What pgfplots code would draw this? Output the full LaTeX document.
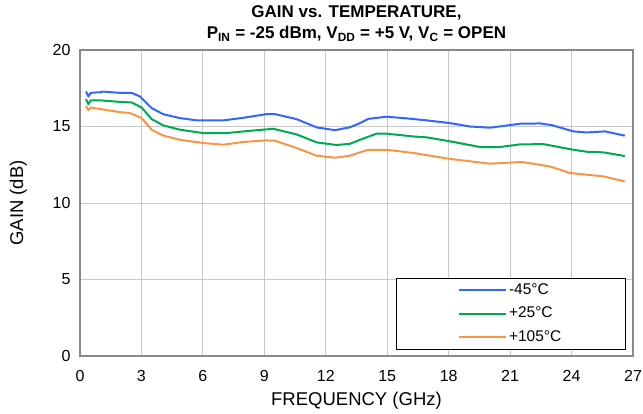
\documentclass[border=0pt]{standalone}
\usepackage{fontspec}
\setmainfont{Liberation Sans}
\usepackage{pgfplots}
\pgfplotsset{compat=1.18}
\definecolor{cblue}{RGB}{51,102,255}
\definecolor{cgreen}{RGB}{0,170,80}
\definecolor{corange}{RGB}{247,150,70}
\definecolor{frame}{RGB}{137,137,137}
\definecolor{gridc}{RGB}{200,200,200}
\begin{document}
\begin{tikzpicture}
  \useasboundingbox (-80bp,-58bp) rectangle (563bp,356bp);
  \begin{axis}[
      at={(0,0)}, anchor=south west,
      scale only axis,
      width=553bp, height=306bp,
      xmin=0, xmax=27, ymin=0, ymax=20,
      xtick={0,3,...,27}, ytick={0,5,...,20},
      grid=major,
      major grid style={gridc, line width=0.8bp},
      axis line style={frame, line width=1.6bp},
      major tick length=0pt,
      /pgf/number format/assume math mode=true,
      tick label style={font=\fontsize{16bp}{19bp}\selectfont},
      yticklabel style={xshift=-6bp},
      xticklabel style={yshift=-11bp},
      xlabel={FREQUENCY (GHz)},
      ylabel={GAIN (dB)},
      label style={font=\fontsize{18.5bp}{22bp}\selectfont},
      xlabel shift=3bp,
      ylabel shift=19bp,
      title={GAIN vs. TEMPERATURE,\\P\textsubscript{IN} = -25 dBm, V\textsubscript{DD} = +5 V, V\textsubscript{C} = OPEN},
      title style={at={(0.5,1)}, anchor=south, yshift=-1bp, align=center,
        font=\bfseries\fontsize{17bp}{21bp}\selectfont},
      legend style={at={(0.571,0.02)}, anchor=south west,
        draw=black, line width=0.8bp, fill=white,
        minimum width=229bp, minimum height=71bp,
        font=\fontsize{15.5bp}{18bp}\selectfont,
        row sep=5.5bp,
        nodes={minimum width=0pt, minimum height=0pt, inner sep=2bp,
          text height=11bp, text depth=3bp}},
      legend cell align=left,
      legend image code/.code={\draw[#1, line width=2bp] (0bp,0bp) -- (47bp,0bp);},
    ]
    \addplot[cblue, line width=2bp, line join=round] coordinates {
      (0.29,17.28)(0.41,16.96)(0.52,17.2)(0.98,17.24)(1.14,17.28)(1.95,17.2)
      (2.52,17.2)(2.93,16.96)(3.5,16.2)(4.07,15.8)(4.88,15.55)(5.7,15.4)
      (7.0,15.4)(7.98,15.57)(9.11,15.81)(9.52,15.81)(10.58,15.48)(11.56,14.94)
      (12.45,14.76)(13.18,14.95)(13.67,15.22)(14.08,15.5)(14.98,15.64)
      (15.95,15.53)(16.93,15.4)(18.07,15.22)(19.04,15.0)(20.02,14.92)
      (21.48,15.18)(22.46,15.2)(23.03,15.09)(24.09,14.68)(24.74,14.61)
      (25.63,14.68)(26.6,14.4)
    };
    \addlegendentry{-45°C}
    \addplot[cgreen, line width=2bp, line join=round] coordinates {
      (0.29,16.79)(0.41,16.46)(0.52,16.7)(1.06,16.7)(1.95,16.61)(2.52,16.57)
      (3.01,16.24)(3.5,15.48)(4.07,15.07)(4.88,14.79)(6.02,14.57)(7.16,14.57)
      (8.14,14.7)(9.44,14.85)(10.58,14.48)(11.56,13.96)(12.53,13.79)
      (13.18,13.87)(13.67,14.13)(14.48,14.53)(14.98,14.53)(16.27,14.35)
      (16.93,14.29)(18.07,14.03)(19.53,13.66)(20.51,13.66)(21.48,13.83)
      (22.62,13.85)(24.09,13.48)(24.74,13.35)(25.55,13.31)(26.6,13.07)
    };
    \addlegendentry{+25°C}
    \addplot[corange, line width=2bp, line join=round] coordinates {
      (0.29,16.35)(0.41,16.05)(0.52,16.24)(0.98,16.14)(1.95,15.94)(2.44,15.88)
      (3.01,15.55)(3.5,14.79)(4.07,14.4)(4.88,14.13)(6.02,13.92)(7.0,13.81)
      (7.98,13.99)(9.03,14.09)(9.52,14.07)(10.58,13.59)(11.56,13.09)
      (12.45,12.96)(13.18,13.09)(13.67,13.31)(14.08,13.48)(14.98,13.48)
      (16.27,13.27)(18.07,12.88)(20.02,12.57)(21.56,12.68)(22.95,12.39)
      (23.93,11.96)(24.74,11.85)(25.55,11.74)(26.6,11.41)
    };
    \addlegendentry{+105°C}
  \end{axis}
\end{tikzpicture}
\end{document}
